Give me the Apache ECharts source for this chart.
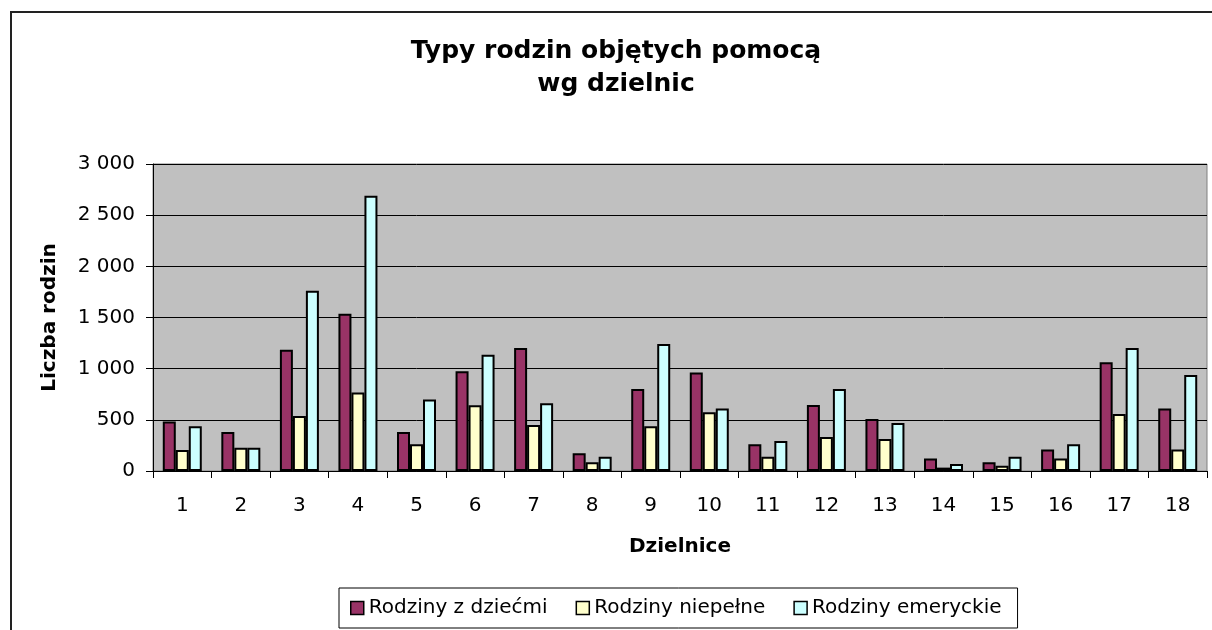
<!DOCTYPE html>
<html>
<head>
<meta charset="utf-8">
<title>Typy rodzin objętych pomocą wg dzielnic</title>
<script src="https://cdn.jsdelivr.net/npm/echarts@6/dist/echarts.min.js"></script>
<style>
  html, body { margin: 0; padding: 0; background: #fff; }
  #chart { width: 1212px; height: 630px; }
</style>
</head>
<body>
<div id="chart"></div>
<script>
const districts = ['1', '2', '3', '4', '5', '6', '7', '8', '9', '10', '11', '12', '13', '14', '15', '16', '17', '18'];
const seriesNames = ['Rodziny z dziećmi', 'Rodziny niepełne', 'Rodziny emeryckie'];
const withChildren = [483, 382, 1184, 1536, 382, 975, 1203, 173, 802, 962, 261, 646, 509, 121, 85, 209, 1063, 610];
const incomplete = [205, 228, 538, 766, 261, 642, 450, 85, 437, 574, 140, 333, 313, 33, 52, 121, 558, 209];
const pensioners = [437, 228, 1761, 2690, 698, 1135, 662, 140, 1242, 610, 293, 802, 470, 68, 140, 261, 1203, 939];
const yTicks = [0, 500, 1000, 1500, 2000, 2500, 3000];

const FONT = '"DejaVu Sans", sans-serif';
const colors = ['#993366', '#FFFFCC', '#CCFFFF'];

function formatThousands(v) {
  return String(v).replace(/\B(?=(\d{3})+(?!\d))/g, ' ');
}

function barSeries(name, data, color) {
  return {
    name: name,
    type: 'bar',
    data: data,
    barWidth: 13,
    barGap: '0%',
    itemStyle: {
      color: color,
      borderColor: '#000',
      borderWidth: 2
    },
    emphasis: { disabled: true }
  };
}

function createChart() {
  const instance = echarts.init(document.getElementById('chart'), null, { renderer: 'canvas' });

  const option = {
    animation: false,
    textStyle: { fontFamily: FONT, color: '#000' },
    title: {
      text: 'Typy rodzin objętych pomocą\nwg dzielnic',
      left: 616,
      top: 35,
      textAlign: 'center',
      padding: 0,
      textStyle: {
        fontFamily: FONT,
        fontSize: 25,
        fontWeight: 'bold',
        lineHeight: 33,
        color: '#000'
      }
    },
    graphic: [
      {
        type: 'rect',
        z: -10,
        silent: true,
        shape: { x: 11, y: 12, width: 1400, height: 800 },
        style: { fill: 'transparent', stroke: '#222', lineWidth: 2 }
      }
    ],
    legend: {
      left: 339,
      top: 588,
      orient: 'horizontal',
      padding: [10, 16, 10, 11],
      itemGap: 28,
      itemWidth: 13,
      itemHeight: 13,
      borderColor: '#000',
      borderWidth: 1,
      icon: 'rect',
      data: seriesNames.map(function (n, i) {
        return { name: n, itemStyle: { color: colors[i], borderColor: '#000', borderWidth: 1.5 } };
      }),
      textStyle: { fontFamily: FONT, fontSize: 20, color: '#000', lineHeight: 20 }
    },
    grid: {
      left: 153,
      top: 164,
      right: 5,
      bottom: 159,
      show: true,
      backgroundColor: '#C0C0C0',
      borderColor: '#808080',
      borderWidth: 1,
      containLabel: false
    },
    xAxis: {
      type: 'category',
      data: districts,
      name: 'Dzielnice',
      nameLocation: 'middle',
      nameGap: 66,
      nameTextStyle: { fontFamily: FONT, fontSize: 20, fontWeight: 'bold', color: '#000', verticalAlign: 'top' },
      axisLine: { show: true, lineStyle: { color: '#000', width: 1 } },
      axisTick: { show: true, alignWithLabel: false, length: 7, lineStyle: { color: '#000' } },
      axisLabel: { margin: 25, fontFamily: FONT, fontSize: 20, color: '#000' },
      splitLine: { show: false }
    },
    yAxis: {
      type: 'value',
      min: yTicks[0],
      max: yTicks[yTicks.length - 1],
      interval: yTicks[1] - yTicks[0],
      name: 'Liczba rodzin',
      nameLocation: 'middle',
      nameGap: 93,
      nameRotate: 90,
      nameTextStyle: { fontFamily: FONT, fontSize: 20, fontWeight: 'bold', color: '#000' },
      axisLine: { show: true, lineStyle: { color: '#000', width: 1 } },
      axisTick: { show: true, length: 7, lineStyle: { color: '#000' } },
      axisLabel: {
        margin: 18,
        fontFamily: FONT,
        fontSize: 20,
        color: '#000',
        formatter: function (v) {
          return formatThousands(v);
        }
      },
      splitLine: { show: true, lineStyle: { color: '#000', width: 1 } }
    },
    series: [
      barSeries(seriesNames[0], withChildren, colors[0]),
      barSeries(seriesNames[1], incomplete, colors[1]),
      barSeries(seriesNames[2], pensioners, colors[2])
    ]
  };

  instance.setOption(option);
  return instance;
}

createChart();
</script>
</body>
</html>
